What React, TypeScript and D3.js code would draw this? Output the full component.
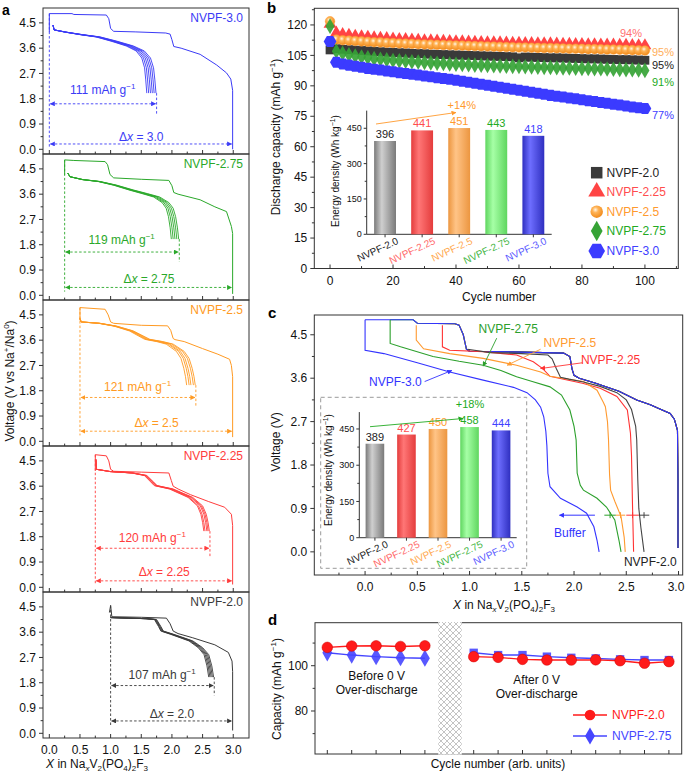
import React from 'react';
import * as d3 from 'd3';

const FONT = '"Liberation Sans", Arial, Helvetica, sans-serif';
const AX = '#333';

// ---------- panel a : charge / discharge profiles ----------
const aNames = ['NVPF-3.0', 'NVPF-2.75', 'NVPF-2.5', 'NVPF-2.25', 'NVPF-2.0'];
const aColors = ['#3b3bf6', '#2aa82a', '#ff9a22', '#ff3c3c', '#3a3a3a'];
const aStartX = [0, 0.25, 0.5, 0.75, 1.0];
const aCapacity = ['111', '119', '121', '120', '107'];
const aDeltaX = ['3.0', '2.75', '2.5', '2.25', '2.0'];
const aFirst = [
  [[2.99, 0], [2.99, 2.1], [2.96, 2.5], [2.89, 2.72], [2.73, 3.0], [2.46, 3.38], [2.15, 3.6], [2.03, 3.66], [2.0, 3.9], [1.97, 4.1], [1.9, 4.14], [1.4, 4.18], [1.05, 4.2], [1.0, 4.3], [0.97, 4.65], [0.93, 4.78], [0.4, 4.8], [0.37, 4.83], [0, 4.83], [0, 4.17]],
  [[2.99, 0.05], [2.99, 2.2], [2.97, 2.45], [2.89, 2.98], [2.7, 3.15], [2.46, 3.4], [2.1, 3.6], [2.03, 3.66], [2.0, 3.9], [1.95, 4.09], [1.5, 4.13], [1.05, 4.18], [0.99, 4.3], [0.95, 4.65], [0.91, 4.76], [0.4, 4.8], [0.25, 4.82], [0.25, 4.29]],
  [[2.99, 0.15], [2.99, 2.3], [2.97, 2.7], [2.94, 2.92], [2.75, 3.1], [2.5, 3.3], [2.2, 3.55], [2.05, 3.62], [2.02, 3.66], [1.98, 3.95], [1.93, 4.11], [1.5, 4.13], [1.05, 4.2], [1.0, 4.25], [0.96, 4.5], [0.91, 4.7], [0.5, 4.76], [0.5, 4.3]],
  [[2.99, 0.1], [2.99, 2.2], [2.97, 2.6], [2.86, 2.85], [2.6, 3.05], [2.3, 3.3], [2.1, 3.5], [2.02, 3.6], [1.99, 3.8], [1.95, 4.07], [1.5, 4.1], [1.05, 4.13], [1.0, 4.2], [0.97, 4.5], [0.93, 4.68], [0.75, 4.72], [0.75, 4.15]],
  [[2.99, 0.1], [2.99, 2.2], [2.98, 2.57], [2.92, 2.88], [2.7, 3.15], [2.34, 3.4], [2.1, 3.55], [2.02, 3.64], [1.97, 3.9], [1.91, 4.1], [1.5, 4.13], [1.02, 4.15], [1.0, 4.55], [0.98, 4.3]],
];
// longest cycling discharge of each sample; the other cycles end earlier (aCycleEnds)
const aCycleBase = [
  [[0.06, 4.42], [0.08, 4.25], [0.28, 4.17], [0.55, 4.08], [0.83, 4.0], [1.1, 3.85], [1.37, 3.68], [1.55, 3.5], [1.65, 3.25], [1.7, 2.9], [1.72, 2.5], [1.74, 2.0]],
  [[0.3, 4.35], [0.34, 4.22], [0.55, 4.12], [0.83, 4.05], [1.1, 3.92], [1.37, 3.75], [1.6, 3.62], [1.8, 3.5], [1.95, 3.3], [2.02, 3.1], [2.06, 2.8], [2.09, 2.4], [2.11, 2.0]],
  [[0.5, 4.37], [0.52, 4.25], [0.83, 4.2], [1.1, 4.1], [1.37, 3.93], [1.64, 3.63], [1.85, 3.55], [2.02, 3.46], [2.2, 3.2], [2.28, 2.95], [2.33, 2.6], [2.36, 2.3], [2.38, 2.0]],
  [[0.76, 4.55], [0.77, 4.2], [1.0, 4.12], [1.37, 4.07], [1.59, 3.98], [1.7, 3.75], [1.76, 3.62], [2.02, 3.5], [2.34, 3.2], [2.5, 2.9], [2.56, 2.6], [2.59, 2.3], [2.61, 2.0]],
  [[1.0, 4.12], [1.3, 4.1], [1.6, 4.08], [1.75, 4.05], [1.82, 3.8], [1.86, 3.64], [2.02, 3.53], [2.34, 3.29], [2.5, 3.05], [2.6, 2.8], [2.65, 2.4], [2.68, 2.0]],
];
const aCycleEnds = [
  [1.59, 1.62, 1.65, 1.68, 1.71, 1.74],
  [1.99, 2.02, 2.05, 2.08, 2.11],
  [2.24, 2.28, 2.31, 2.35, 2.38],
  [2.52, 2.54, 2.57, 2.59, 2.61],
  [2.6, 2.62, 2.64, 2.66, 2.68],
];
const aCapArrowV = [1.62, 1.54, 1.56, 1.39, 1.7];
const aCapTextV = [1.97, 1.84, 1.78, 1.63, 1.95];
const aDxArrowV = [0.19, 0.28, 0.36, 0.23, 0.44];
const aDxTextV = [0.31, 0.44, 0.51, 0.42, 0.56];

// ---------- panel b : cycling ----------
const bCycles = d3.range(0, 101, 2);
const bNames = ['NVPF-2.0', 'NVPF-2.25', 'NVPF-2.5', 'NVPF-2.75', 'NVPF-3.0'];
const bText = ['#222', '#ff4d4d', '#ff9a2e', '#22aa22', '#4040ff'];
const bCap20 = [107.7, 108.3, 108.0, 107.8, 107.6, 107.4, 107.2, 107.0, 106.8, 106.6, 106.5, 106.3, 106.2, 106.0, 105.9, 105.8, 105.6, 105.5, 105.4, 105.3, 105.2, 105.1, 105.0, 104.9, 104.8, 104.7, 104.6, 104.5, 104.4, 104.3, 103.8, 104.2, 104.1, 104.0, 103.9, 103.8, 103.8, 103.7, 103.6, 103.5, 103.4, 103.3, 103.3, 103.2, 103.1, 103.0, 102.9, 102.9, 102.8, 102.7, 102.6];
const bCap225 = [120.5, 116.0, 115.3, 114.9, 114.5, 114.2, 114.0, 113.7, 113.5, 113.3, 113.1, 112.9, 112.8, 112.6, 112.5, 112.3, 112.2, 112.1, 112.0, 111.9, 111.8, 111.7, 111.6, 111.5, 111.4, 111.3, 111.3, 111.2, 111.1, 111.0, 111.0, 110.9, 110.9, 110.8, 110.7, 110.7, 110.6, 110.5, 110.5, 110.4, 110.4, 110.3, 110.3, 110.2, 110.1, 110.1, 110.0, 110.0, 109.9, 109.8, 109.8];
const bCap25 = [121.8, 112.8, 112.5, 112.3, 112.1, 111.9, 111.7, 111.5, 111.4, 111.2, 111.1, 110.9, 110.8, 110.7, 110.5, 110.4, 110.3, 110.2, 110.1, 110.0, 109.9, 109.8, 109.7, 109.6, 109.5, 109.4, 109.3, 109.2, 109.1, 109.0, 108.9, 108.9, 108.8, 108.7, 108.6, 108.6, 108.5, 108.4, 108.3, 108.3, 108.2, 108.1, 108.1, 108.0, 107.9, 107.9, 107.8, 107.7, 107.6, 107.5, 107.4];
const bCap275 = [119.4, 107.0, 106.0, 105.3, 104.7, 104.2, 103.8, 103.4, 103.1, 102.8, 102.5, 102.3, 102.1, 101.9, 101.7, 101.5, 101.3, 101.1, 101.0, 100.8, 100.6, 100.5, 100.4, 100.2, 100.1, 100.0, 99.9, 99.8, 99.7, 99.6, 99.5, 99.4, 99.3, 99.2, 99.1, 99.0, 98.9, 98.8, 98.8, 98.7, 98.6, 98.5, 98.4, 98.4, 98.3, 98.2, 98.1, 98.0, 97.9, 97.8, 97.6];
const bCap30 = [111.8, 101.6, 100.8, 100.2, 99.6, 99.1, 98.6, 98.2, 97.8, 97.3, 96.9, 96.5, 96.1, 95.7, 95.3, 94.9, 94.5, 94.0, 93.6, 93.2, 92.8, 92.3, 91.8, 91.3, 90.8, 90.3, 89.8, 89.3, 88.8, 88.3, 87.8, 87.3, 86.8, 86.3, 85.8, 85.3, 84.9, 84.5, 84.0, 83.6, 83.1, 82.7, 82.3, 81.8, 81.4, 80.9, 80.5, 80.1, 79.6, 79.2, 78.8];
const bSeries = [bCap20, bCap225, bCap25, bCap275, bCap30];
const bRetention = ['95%', '94%', '95%', '91%', '77%'];
const bEnergy = [396, 441, 451, 443, 418];

// ---------- panel c : over-discharge to 0 V ----------
const cNames = ['NVPF-2.0', 'NVPF-2.25', 'NVPF-2.5', 'NVPF-2.75', 'NVPF-3.0'];
const cColors = ['#444444', '#ff3333', '#ff9a30', '#2ca02c', '#3333ff'];
const cStartX = [0.97, 0.74, 0.49, 0.24, 0];
const cCharge = [[2.995, 0.08], [2.995, 1.5], [2.99, 2.52], [2.96, 2.75], [2.92, 2.87], [2.8, 2.98], [2.73, 3.05], [2.6, 3.15], [2.43, 3.33], [2.2, 3.5], [2.05, 3.6], [2.0, 3.66], [1.98, 3.8], [1.96, 4.05], [1.9, 4.12], [1.5, 4.14], [1.0, 4.16], [0.97, 4.2], [0.94, 4.5], [0.9, 4.7], [0.86, 4.73], [0.5, 4.74], [0.46, 4.81], [0, 4.81]];
const cDischarge = [
  [[0.98, 4.2], [1.2, 4.13], [1.5, 4.11], [1.75, 4.08], [1.79, 4.0], [1.83, 3.8], [1.87, 3.62], [1.95, 3.58], [2.09, 3.52], [2.25, 3.43], [2.41, 3.3], [2.5, 3.15], [2.55, 2.95], [2.59, 2.6], [2.6, 2.32], [2.61, 1.5], [2.62, 0.9], [2.64, 0.5], [2.67, 0]],
  [[0.74, 4.7], [0.74, 4.25], [0.81, 4.18], [1.13, 4.15], [1.45, 4.08], [1.61, 3.94], [1.7, 3.8], [1.77, 3.64], [2.09, 3.49], [2.25, 3.39], [2.41, 3.22], [2.51, 2.94], [2.54, 2.46], [2.55, 2.0], [2.56, 0.93], [2.57, 0]],
  [[0.49, 4.7], [0.49, 4.39], [0.56, 4.21], [0.81, 4.11], [1.13, 4.01], [1.45, 3.87], [1.68, 3.73], [1.77, 3.64], [2.09, 3.53], [2.22, 3.35], [2.28, 3.1], [2.3, 3.01], [2.32, 2.7], [2.33, 2.32], [2.34, 1.6], [2.35, 1.28], [2.39, 1.05], [2.45, 0.73], [2.48, 0.3], [2.49, 0]],
  [[0.24, 4.81], [0.24, 4.32], [0.34, 4.25], [0.65, 4.05], [0.9, 3.95], [1.13, 3.87], [1.3, 3.76], [1.45, 3.63], [1.6, 3.53], [1.77, 3.42], [1.88, 3.25], [1.96, 2.94], [2.0, 2.6], [2.02, 2.32], [2.03, 1.63], [2.06, 1.38], [2.09, 1.28], [2.22, 1.11], [2.31, 0.93], [2.39, 0.66], [2.43, 0.24], [2.45, 0]],
  [[0, 4.81], [0, 4.18], [0.18, 4.11], [0.5, 3.92], [0.81, 3.73], [1.13, 3.56], [1.42, 3.41], [1.55, 3.3], [1.63, 3.15], [1.68, 3.0], [1.71, 2.8], [1.73, 2.5], [1.74, 2.2], [1.75, 1.63], [1.77, 1.35], [1.87, 1.11], [2.03, 0.93], [2.12, 0.8], [2.19, 0.52], [2.22, 0.24], [2.24, 0]],
];
const cEnergy = [389, 427, 450, 458, 444];
// short marks where the curves cross the buffer level
const cBufferV = 0.76;
const cMarkSpans = [[2.29, 2.4, 3], [2.4, 2.49, 2], [2.5, 2.62, 1], [2.62, 2.72, 0]];

// ---------- panel d : before / after over-discharge ----------
const dRedLeft = [108.1, 108.7, 108.8, 108.5, 108.8];
const dRedRight = [104.0, 103.7, 102.8, 102.5, 102.5, 102.6, 102.2, 101.1, 101.8];
const dBlueLeft = [105.7, 104.7, 104.0, 103.5, 103.3];
const dBlueRight = [105.7, 104.7, 104.7, 104.0, 103.5, 103.2, 102.8, 102.5, 102.5];
const dLeftIdx = [0, 1, 2, 3, 4];
const dRightIdx = [6, 7, 8, 9, 10, 11, 12, 13, 14];

const ARROW_COLORS = [...aColors, ...cColors, '#ff9a2e', '#22aa22'];
const mid = (c: string) => `url(#ah${c.slice(1)})`;

const symbolHexagon = {
  draw(ctx: any, size: number) {
    const r = Math.sqrt((2 * size) / (3 * Math.sqrt(3)));
    for (let k = 0; k < 6; k++) {
      const a = (Math.PI / 3) * k;
      if (k === 0) ctx.moveTo(r * Math.cos(a), r * Math.sin(a));
      else ctx.lineTo(r * Math.cos(a), r * Math.sin(a));
    }
    ctx.closePath();
  },
};
const bSymbols = [d3.symbolSquare, d3.symbolTriangle, d3.symbolCircle, d3.symbolDiamond, symbolHexagon];
const bSizes = [78, 72, 72, 70, 105];
const bFills = ['#3a3a3a', '#ff4444', 'url(#gOrangeBall)', '#36a336', '#3b3bff'];

// bar gradient colours [dark, light]
const barShades = [['#7a7a7a', '#cfcfcf'], ['#e43c3c', '#ff7676'], ['#ec9640', '#ffc487'], ['#5fd65f', '#a6ffa6'], ['#2f2fc0', '#6e6eff']];

function yTicks(scale: any, x: number, major: number[], minor: number[], fmt: (v: number) => string, fs = 12, len = 4) {
  return (
    <g>
      {major.map((v) => (
        <g key={'M' + v}>
          <line x1={x - len} x2={x} y1={scale(v)} y2={scale(v)} stroke={AX} />
          <text x={x - len - 3} y={scale(v)} dy="0.35em" textAnchor="end" fontSize={fs} fill="#111">{fmt(v)}</text>
        </g>
      ))}
      {minor.map((v) => (
        <line key={'m' + v} x1={x - len * 0.6} x2={x} y1={scale(v)} y2={scale(v)} stroke={AX} />
      ))}
    </g>
  );
}

function xTicks(scale: any, y: number, major: number[], minor: number[], fmt: ((v: number) => string) | null, fs = 12, len = 4, maxX = 676) {
  return (
    <g>
      {major.map((v) => (
        <g key={'M' + v}>
          <line x1={scale(v)} x2={scale(v)} y1={y} y2={y - len} stroke={AX} />
          {fmt && <text x={Math.min(scale(v), maxX)} y={y + 16} textAnchor="middle" fontSize={fs} fill="#111">{fmt(v)}</text>}
        </g>
      ))}
      {minor.map((v) => (
        <line key={'m' + v} x1={scale(v)} x2={scale(v)} y1={y} y2={y - len * 0.6} stroke={AX} />
      ))}
    </g>
  );
}

const NaFormula = ({ x, y }: { x: number; y: number }) => (
  <text x={x} y={y} textAnchor="middle" fontSize={12} fill="#111">
    <tspan fontStyle="italic">X</tspan> in Na
    <tspan fontSize={8} dy={3} fontStyle="italic">x</tspan>
    <tspan dy={-3}>V</tspan>
    <tspan fontSize={8} dy={3}>2</tspan>
    <tspan dy={-3}>(PO</tspan>
    <tspan fontSize={8} dy={3}>4</tspan>
    <tspan dy={-3}>)</tspan>
    <tspan fontSize={8} dy={3}>2</tspan>
    <tspan dy={-3}>F</tspan>
    <tspan fontSize={8} dy={3}>3</tspan>
  </text>
);

// ---------------- panel a ----------------
const aX = d3.scaleLinear().domain([-0.103, 3.257]).range([43, 249]);
const A_TOP = 8;
const A_H = 146;

function PanelA() {
  const f1 = d3.format('.1f');
  return (
    <g>
      <text x={2} y={15} fontSize={14} fontWeight="bold">a</text>
      {aNames.map((name, i) => {
        const top = A_TOP + i * A_H;
        const y = d3.scaleLinear().domain([-0.167, 5.03]).range([top + A_H, top]);
        const line = d3.line<any>().x((d) => aX(d[0])).y((d) => y(d[1]));
        const col = aColors[i];
        const x0 = aStartX[i];
        const base = aCycleBase[i];
        const xs = base[0][0];
        const xe = base[base.length - 1][0];
        const capEnd = d3.max(aCycleEnds[i]) as number;
        const firstTop = d3.max(aFirst[i], (d) => d[1]) as number;
        return (
          <g key={name}>
            <rect x={43} y={top} width={206} height={A_H} fill="none" stroke={AX} />
            {yTicks(y, 43, [0, 0.9, 1.8, 2.7, 3.6, 4.5], [0.45, 1.35, 2.25, 3.15, 4.05], f1)}
            {xTicks(aX, top + A_H, d3.range(0, 3.01, 0.5), [0.25, 0.75, 1.25, 1.75, 2.25, 2.75], i === 4 ? f1 : null)}
            <path d={line(aFirst[i]) as string} fill="none" stroke={col} strokeWidth={1} />
            {aCycleEnds[i].map((e, k) => {
              const kk = (e - xs) / (xe - xs);
              const pts = base.map(([bx, bv]) => [xs + (bx - xs) * kk, bv]);
              return <path key={k} d={line(pts) as string} fill="none" stroke={col} strokeWidth={0.9} />;
            })}
            {/* dashed guides */}
            <line x1={aX(x0)} x2={aX(x0)} y1={y(firstTop)} y2={y(aDxArrowV[i] - 0.15)} stroke={col} strokeDasharray="2.5,2" strokeWidth={0.9} />
            <line x1={aX(capEnd + 0.01)} x2={aX(capEnd + 0.01)} y1={y(2.0)} y2={y(aCapArrowV[i] - 0.35)} stroke={col} strokeDasharray="2.5,2" strokeWidth={0.9} />
            <line x1={aX(x0) + 1} x2={aX(capEnd + 0.01) - 1} y1={y(aCapArrowV[i])} y2={y(aCapArrowV[i])} stroke={col} strokeDasharray="2.5,2" strokeWidth={0.9} markerStart={mid(col)} markerEnd={mid(col)} />
            <line x1={aX(x0) + 1} x2={aX(2.99) - 1} y1={y(aDxArrowV[i])} y2={y(aDxArrowV[i])} stroke={col} strokeDasharray="2.5,2" strokeWidth={0.9} markerStart={mid(col)} markerEnd={mid(col)} />
            <text x={aX((x0 + capEnd) / 2)} y={y(aCapTextV[i])} textAnchor="middle" fontSize={12} fill={col}>
              {aCapacity[i]} mAh g<tspan fontSize={8} dy={-5}>−1</tspan>
            </text>
            <text x={aX((x0 + 3) / 2)} y={y(aDxTextV[i])} textAnchor="middle" fontSize={12} fill={col}>
              Δ<tspan fontStyle="italic">x</tspan> = {aDeltaX[i]}
            </text>
            <text x={243} y={top + 14} textAnchor="end" fontSize={12} fill={col}>{name}</text>
          </g>
        );
      })}
      <text transform="translate(14,381) rotate(-90)" textAnchor="middle" fontSize={12} fill="#111">
        Voltage (V vs Na<tspan fontSize={8} dy={-5}>+</tspan>
        <tspan dy={5}>/Na</tspan>
        <tspan fontSize={8} dy={-5}>0</tspan>
        <tspan dy={5}>)</tspan>
      </text>
      <NaFormula x={97} y={768} />
    </g>
  );
}

// ---------------- energy-density inset ----------------
function EnergyInset({ values, x0, x1, y0, yMax, k, pct, pctColor, arrow, pctPos, labelX, labelY }: any) {
  const xb = d3.scaleBand<string>().domain(bNames).range([x0, x1]).paddingInner(0.41).paddingOuter(0.2);
  const yb = d3.scaleLinear().domain([0, yMax]).range([y0, y0 - yMax * k]);
  return (
    <g>
      <line x1={x0} x2={x0} y1={y0} y2={yb(yMax)} stroke={AX} />
      <line x1={x0} x2={x1} y1={y0} y2={y0} stroke={AX} />
      {[0, 150, 300, 450].map((v) => (
        <g key={v}>
          <line x1={x0 - 3} x2={x0} y1={yb(v)} y2={yb(v)} stroke={AX} />
          <text x={x0 - 5} y={yb(v)} dy="0.35em" textAnchor="end" fontSize={9} fill="#111">{v}</text>
        </g>
      ))}
      {[75, 225, 375].map((v) => (
        <line key={v} x1={x0 - 2} x2={x0} y1={yb(v)} y2={yb(v)} stroke={AX} />
      ))}
      {bNames.map((n, i) => {
        const cx = (xb(n) as number) + xb.bandwidth() / 2;
        return (
          <g key={n}>
            <rect x={xb(n)} y={yb(values[i])} width={xb.bandwidth()} height={y0 - yb(values[i])} fill={`url(#bar${i})`} />
            <line x1={cx} x2={cx} y1={y0} y2={y0 + 3} stroke={AX} />
            <text x={cx} y={yb(values[i]) - 3} textAnchor="middle" fontSize={11} fill={bText[i]}>{values[i]}</text>
            <text transform={`translate(${cx + 14},${y0 + 9}) rotate(-25)`} textAnchor="end" fontSize={10} fill={bText[i]} opacity={i === 0 ? 1 : 0.85}>{n}</text>
          </g>
        );
      })}
      <line x1={arrow[0]} y1={arrow[1]} x2={arrow[2]} y2={arrow[3]} stroke={pctColor} strokeWidth={0.9} markerEnd={mid(pctColor)} />
      <text x={pctPos[0]} y={pctPos[1]} textAnchor="middle" fontSize={11} fill={pctColor}>{pct}</text>
      <text transform={`translate(${labelX},${labelY}) rotate(-90)`} textAnchor="middle" fontSize={10} fill="#111">
        Energy density (Wh kg<tspan fontSize={7} dy={-4}>−1</tspan>
        <tspan dy={4}>)</tspan>
      </text>
    </g>
  );
}

// ---------------- panel b ----------------
const xB = d3.scaleLinear().domain([-5, 110.6]).range([314.3, 678.3]);
const yB = d3.scaleLinear().domain([0, 128.2]).range([268.5, 8.3]);

function PanelB() {
  const order = [0, 1, 2, 3, 4];
  const retPos = [[663, 69], [631, 37], [663, 55.5], [663, 86], [663, 118.5]];
  return (
    <g>
      <text x={267} y={13} fontSize={15} fontWeight="bold">b</text>
      <rect x={314.3} y={8.3} width={364} height={260.2} fill="none" stroke={AX} />
      {yTicks(yB, 314.3, d3.range(0, 121, 15), d3.range(7.5, 128, 15), (v) => String(v))}
      {xTicks(xB, 268.5, d3.range(0, 101, 20), d3.range(10, 111, 20), (v) => String(v))}
      {order.map((s) => {
        const sym = d3.symbol().type(bSymbols[s] as any).size(bSizes[s])() as string;
        return (
          <g key={s}>
            {bCycles.map((c, j) => (
              <path key={j} d={sym} transform={`translate(${xB(c)},${yB(bSeries[s][j])})`} fill={bFills[s]} stroke={s === 2 ? '#ff9a2e' : 'none'} strokeWidth={0.5} opacity={s === 3 ? 0.92 : 1} />
            ))}
          </g>
        );
      })}
      {bRetention.map((r, s) => (
        <text key={s} x={retPos[s][0]} y={retPos[s][1]} textAnchor="middle" fontSize={11} fill={bText[s]} opacity={s === 1 || s === 2 ? 0.8 : 1}>{r}</text>
      ))}
      {bNames.map((n, s) => {
        const ly = [172.7, 191.7, 211.7, 231, 251][s];
        const sym = d3.symbol().type(bSymbols[s] as any).size(bSizes[s] * 1.7)() as string;
        return (
          <g key={n}>
            <path d={sym} transform={`translate(596.7,${ly})`} fill={bFills[s]} />
            <text x={606.5} y={ly + 4.3} fontSize={12} fill={bText[s]}>{n}</text>
          </g>
        );
      })}
      <EnergyInset values={bEnergy} x0={366.7} x1={551.7} y0={234.3} yMax={525} k={0.2356}
        pct="+14%" pctColor="#ff9a2e" arrow={[376, 124, 456, 112.5]} pctPos={[461.7, 109]} labelX={339} labelY={171} />
      <text x={499} y={301} textAnchor="middle" fontSize={12} fill="#111">Cycle number</text>
      <text transform="translate(280,137) rotate(-90)" textAnchor="middle" fontSize={12} fill="#111">
        Discharge capacity (mAh g<tspan fontSize={8} dy={-5}>−1</tspan>
        <tspan dy={5}>)</tspan>
      </text>
    </g>
  );
}

// ---------------- panel c ----------------
const xC = d3.scaleLinear().domain([-0.486, 3.04]).range([314.3, 682.7]);
const yC = d3.scaleLinear().domain([-0.48, 4.91]).range([575, 315]);

function PanelC() {
  const line = d3.line<any>().x((d) => xC(d[0])).y((d) => yC(d[1]));
  const drawOrder = [1, 2, 3, 0, 4];
  const labels = [
    { t: 'NVPF-2.75', c: 3, x: 1.37, v: 4.53, a: [1.26, 4.43, 1.13, 3.85] },
    { t: 'NVPF-2.5', c: 2, x: 1.96, v: 4.25, a: [1.68, 4.2, 1.36, 3.87] },
    { t: 'NVPF-2.25', c: 1, x: 2.35, v: 3.89, a: [2.08, 3.92, 1.68, 3.8] },
    { t: 'NVPF-3.0', c: 4, x: 0.29, v: 3.44, a: [0.57, 3.53, 0.83, 3.76] },
  ];
  const fmt = d3.format('.1f');
  return (
    <g>
      <text x={268} y={318} fontSize={15} fontWeight="bold">c</text>
      <defs>
        {cNames.map((n, i) => (
          <clipPath key={n} id={`clipC${i}`}>
            <rect x={xC(cStartX[i])} y={315} width={683 - xC(cStartX[i])} height={260} />
          </clipPath>
        ))}
      </defs>
      <rect x={314.3} y={315} width={368.4} height={260} fill="none" stroke={AX} />
      {yTicks(yC, 314.3, [0, 0.9, 1.8, 2.7, 3.6, 4.5], [0.45, 1.35, 2.25, 3.15, 4.05], fmt)}
      {xTicks(xC, 575, d3.range(0, 3.01, 0.5), [-0.25, 0.25, 0.75, 1.25, 1.75, 2.25, 2.75], fmt)}
      {drawOrder.map((i) => (
        <path key={'ch' + i} d={line(cCharge) as string} clipPath={`url(#clipC${i})`} fill="none" stroke={cColors[i]} strokeWidth={1.1} />
      ))}
      {drawOrder.map((i) => (
        <path key={'dc' + i} d={line(cDischarge[i]) as string} fill="none" stroke={cColors[i]} strokeWidth={1.1} />
      ))}
      {labels.map((l) => (
        <g key={l.t}>
          <text x={xC(l.x)} y={yC(l.v)} textAnchor="middle" fontSize={12} fill={cColors[l.c]}>{l.t}</text>
          <line x1={xC(l.a[0])} y1={yC(l.a[1])} x2={xC(l.a[2])} y2={yC(l.a[3])} stroke={cColors[l.c]} strokeWidth={0.9} markerEnd={mid(cColors[l.c])} />
        </g>
      ))}
      <line x1={xC(2.2)} x2={xC(1.86)} y1={yC(cBufferV)} y2={yC(cBufferV)} stroke={cColors[4]} strokeWidth={1} markerEnd={mid(cColors[4])} />
      {cMarkSpans.map(([a, b, ci], k) => (
        <g key={k}>
          <line x1={xC(a)} x2={xC(b)} y1={yC(cBufferV)} y2={yC(cBufferV)} stroke={cColors[ci]} strokeWidth={1} />
          <line x1={xC((a + b) / 2)} x2={xC((a + b) / 2)} y1={yC(cBufferV) - 3} y2={yC(cBufferV) + 3} stroke={cColors[ci]} strokeWidth={1} />
        </g>
      ))}
      <text x={xC(1.96)} y={yC(0.3)} textAnchor="middle" fontSize={12} fill={cColors[4]}>Buffer</text>
      <text x={xC(2.73)} y={yC(-0.29)} textAnchor="middle" fontSize={12} fill="#222">NVPF-2.0</text>
      <rect x={320.7} y={397.3} width={206} height={171} fill="white" stroke="#9a9a9a" strokeDasharray="4,3" />
      <EnergyInset values={cEnergy} x0={359.3} x1={516.7} y0={537.7} yMax={520} k={0.2416}
        pct="+18%" pctColor="#22aa22" arrow={[370, 426.7, 463, 418.5]} pctPos={[470, 408]} labelX={332} labelY={470} />
      <NaFormula x={504} y={609} />
      <text transform="translate(280,442) rotate(-90)" textAnchor="middle" fontSize={12} fill="#111">Voltage (V)</text>
    </g>
  );
}

// ---------------- panel d ----------------
const xD = d3.scaleLinear().domain([0, 14]).range([327.3, 668.9]);
const yD = d3.scaleLinear().domain([61, 119]).range([754, 622.7]);

function PanelD() {
  const line = d3.line<any>().x((d) => xD(d[0])).y((d) => yD(d[1]));
  const pair = (idx: number[], vals: number[]) => idx.map((x, k) => [x, vals[k]]);
  const diamond = d3.symbol().type(d3.symbolDiamond).size(85)() as string;
  const square = d3.symbol().type(d3.symbolSquare).size(70)() as string;
  const red = '#ff1a1a';
  const blue = '#4646ff';
  const groups = [
    { pts: pair(dLeftIdx, dBlueLeft), c: blue, m: 'd' },
    { pts: pair(dRightIdx, dBlueRight), c: blue, m: 's' },
    { pts: pair(dLeftIdx, dRedLeft), c: red, m: 'c' },
    { pts: pair(dRightIdx, dRedRight), c: red, m: 'c' },
  ];
  return (
    <g>
      <text x={268} y={625} fontSize={15} fontWeight="bold">d</text>
      <defs>
        <pattern id="hatch" width={6} height={6} patternUnits="userSpaceOnUse">
          <path d="M0,0 L6,6 M6,0 L0,6" stroke="#b5b5b5" strokeWidth={0.8} />
        </pattern>
      </defs>
      <rect x={315} y={622.7} width={366.7} height={131.3} fill="none" stroke={AX} />
      {yTicks(yD, 315, [80, 100], [70, 90, 110], (v) => String(v))}
      {xTicks(xD, 754, [...dLeftIdx, ...dRightIdx], [], null)}
      {groups.map((g, k) => (
        <g key={k}>
          <path d={line(g.pts) as string} fill="none" stroke={g.c} strokeWidth={1.4} />
          {g.pts.map(([x, v], j) =>
            g.m === 'c' ? (
              <circle key={j} cx={xD(x)} cy={yD(v)} r={5.3} fill={g.c} stroke="#d00000" strokeWidth={0.5} />
            ) : (
              <path key={j} d={g.m === 'd' ? diamond : square} transform={`translate(${xD(x)},${yD(v)})`} fill={g.c} opacity={0.9} />
            )
          )}
        </g>
      ))}
      <rect x={438.3} y={622} width={23.4} height={132.6} fill="white" />
      <rect x={438.3} y={622} width={23.4} height={132.6} fill="url(#hatch)" />
      <text x={376.7} y={680} textAnchor="middle" fontSize={12} fill="#111">Before 0 V</text>
      <text x={376.7} y={694} textAnchor="middle" fontSize={12} fill="#111">Over-discharge</text>
      <text x={536.7} y={683.5} textAnchor="middle" fontSize={12} fill="#111">After 0 V</text>
      <text x={536.7} y={697.5} textAnchor="middle" fontSize={12} fill="#111">Over-discharge</text>
      <line x1={573} x2={607} y1={715} y2={715} stroke={red} strokeWidth={1.4} />
      <circle cx={590} cy={715} r={5.3} fill={red} />
      <text x={612} y={719} fontSize={12} fill={red}>NVPF-2.0</text>
      <line x1={573} x2={607} y1={736} y2={736} stroke={blue} strokeWidth={1.4} />
      <path d={diamond} transform="translate(590,736)" fill={blue} />
      <text x={612} y={740} fontSize={12} fill={blue}>NVPF-2.75</text>
      <text x={498} y={768} textAnchor="middle" fontSize={12} fill="#111">Cycle number (arb. units)</text>
      <text transform="translate(281,689) rotate(-90)" textAnchor="middle" fontSize={12} fill="#111">
        Capacity (mAh g<tspan fontSize={8} dy={-5}>−1</tspan>
        <tspan dy={5}>)</tspan>
      </text>
    </g>
  );
}

export default function App() {
  return (
    <div style={{ position: 'absolute', left: 0, top: 0 }}>
      <svg width={685} height={776} style={{ display: 'block', fontFamily: FONT }}>
        <defs>
          {ARROW_COLORS.map((c, i) => (
            <marker key={i} id={`ah${c.slice(1)}`} viewBox="0 0 10 10" refX={9} refY={5} markerWidth={5} markerHeight={5} markerUnits="userSpaceOnUse" orient="auto-start-reverse">
              <path d="M0,0 L10,5 L0,10 z" fill={c} />
            </marker>
          ))}
          <radialGradient id="gOrangeBall" cx="0.4" cy="0.35" r="0.65">
            <stop offset="0%" stopColor="#fff6e8" />
            <stop offset="35%" stopColor="#ffb458" />
            <stop offset="100%" stopColor="#f08a1a" />
          </radialGradient>
          {barShades.map(([dark, light], i) => (
            <linearGradient key={i} id={`bar${i}`} x1="0" x2="1" y1="0" y2="0">
              <stop offset="0%" stopColor={dark} />
              <stop offset="35%" stopColor={light} />
              <stop offset="100%" stopColor={dark} />
            </linearGradient>
          ))}
        </defs>
        <rect width={685} height={776} fill="white" />
        <PanelA />
        <PanelB />
        <PanelC />
        <PanelD />
      </svg>
    </div>
  );
}
